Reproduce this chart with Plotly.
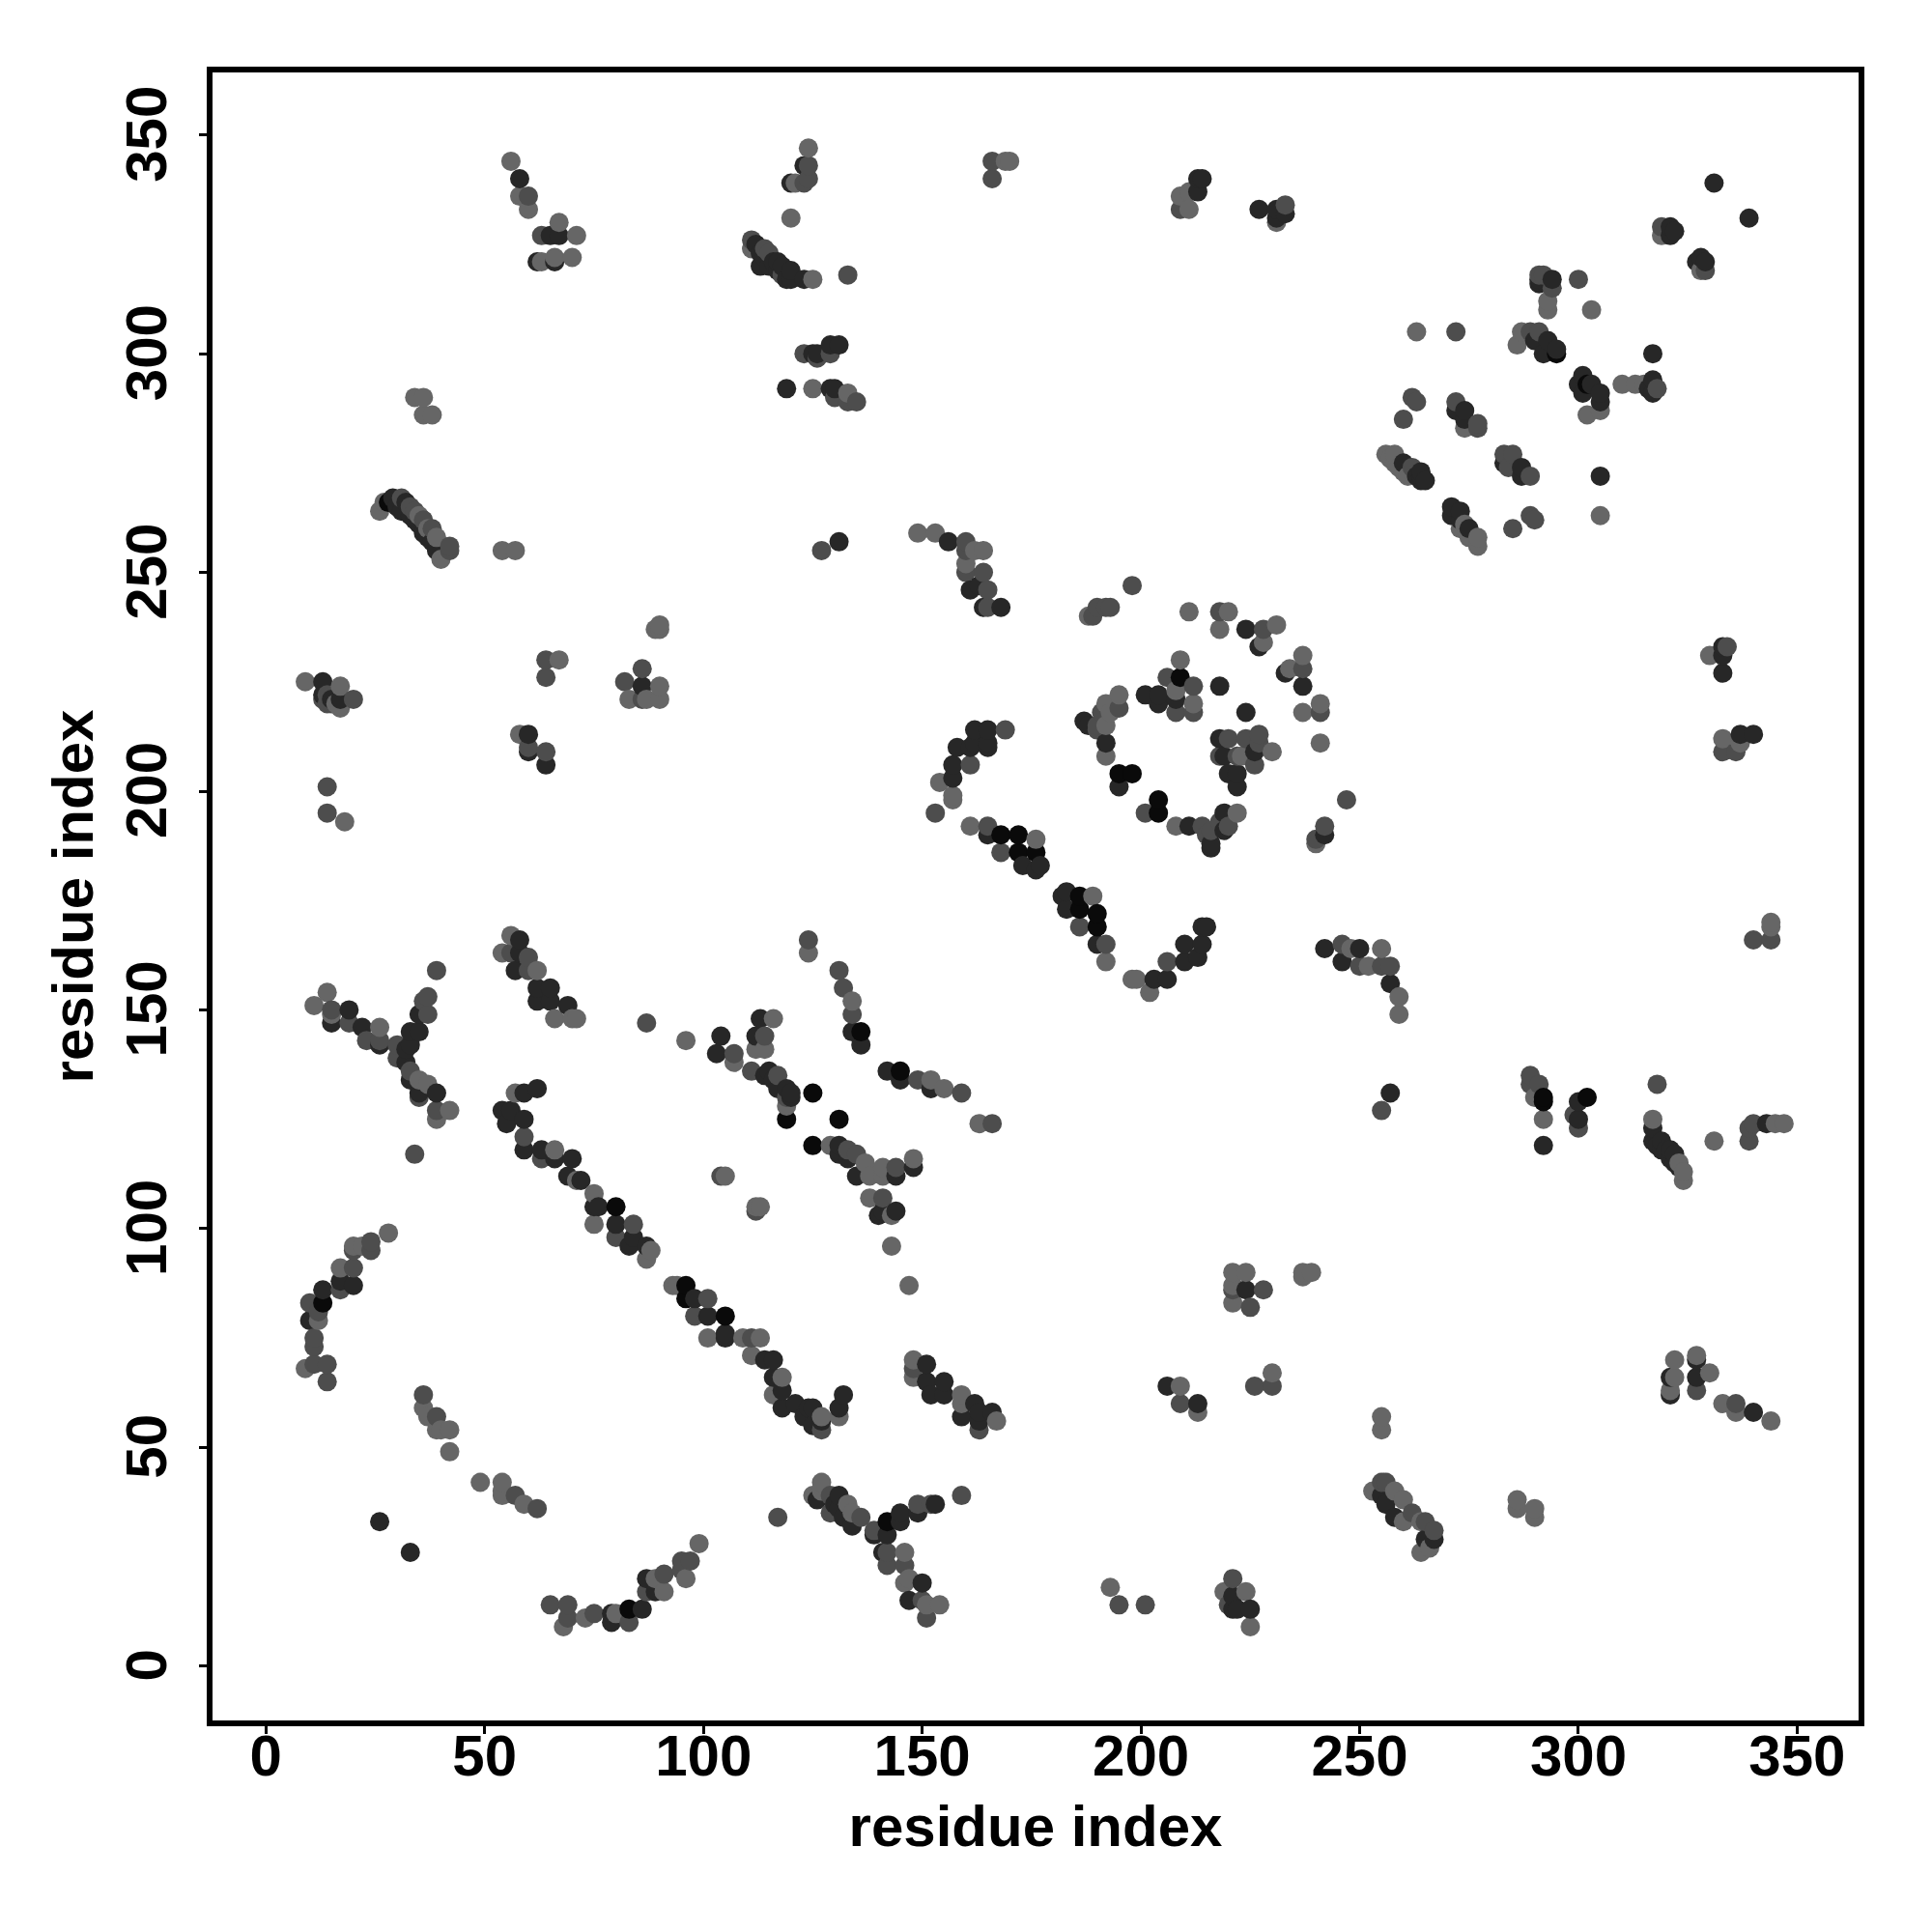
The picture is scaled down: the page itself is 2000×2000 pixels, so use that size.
import numpy as np
import plotly.graph_objects as go

contacts_light = [
(56,344),(58,336),(60,333),(67,330),(71,327),(63,321),(66,322),(70,322),(34,290),(36,290),(36,286),(38,286),(26,264),(27,266),(35,263),(37,260),(39,258),(40,253),(54,255),(57,255),
(111,324),(125,317),(124,347),(121,339),(120,331),(125,292),(133,291),(169,344),(170,344),(209,336),(211,333),(211,337),(231,330),(149,259),(153,259),(164,255),(162,255),(160,252),(188,240),(211,241),(220,241),
(319,327),(293,312),(293,310),(328,319),(303,310),(263,305),(287,305),(286,302),(310,293),(313,293),(315,293),(302,286),(305,287),(274,283),(256,277),(257,276),(258,277),(258,275),(259,274),(260,273),(261,272),(262,273),(274,261),(273,260),(277,258),(277,256),(275,258),(305,263),
(90,238),(89,237),(90,237),(67,230),(90,224),(83,221),(87,221),(90,221),(9,225),(17,224),(16,220),(17,219),(58,213),(18,193),(56,167),(54,163),(62,159),(66,148),(70,148),(71,148),(14,154),(11,151),(15,149),(26,146),(35,134),(37,133),(42,127),(39,125),(57,131),(66,118),(107,138),(96,143),(112,141),
(209,230),(208,223),(212,220),(218,237),(231,238),(228,234),(234,228),(237,231),(237,218),(154,202),(157,199),(157,198),(161,192),(176,189),(189,176),(192,161),(198,157),(199,157),(202,154),(195,222),(192,220),(193,218),(192,215),(192,208),(208,192),(222,195),(230,209),(223,208),(124,163),(134,152),(152,134),(155,132),(163,124),(129,119),(137,115),(141,114),(148,116),(116,148),(114,141),(119,128),
(330,231),(333,212),(337,211),(241,220),(241,211),(240,188),(255,164),(248,164),(252,160),(259,153),(259,149),(290,130),(292,125),(317,125),(331,120),(347,124),(345,124),(344,170),(344,169),
(71,111),(75,108),(75,101),(88,95),(87,93),(93,87),(94,87),(101,75),(109,75),(111,71),(28,99),(22,96),(20,96),(17,91),(12,79),(9,68),(36,59),(37,57),(39,54),(42,54),(40,54),(42,49),(49,42),(54,42),(54,40),(54,39),(59,37),(99,28),(96,20),(89,20),(91,17),(80,12),(73,11),(68,9),(105,112),(112,105),
(113,105),(113,75),(118,66),(116,62),(131,57),(148,70),(148,66),(159,62),(159,60),(167,56),(209,64),(213,58),(230,67),(221,90),(224,90),(221,87),(221,83),(237,90),(237,89),(239,90),(138,107),(143,103),(143,96),(147,87),(138,112),(141,112),(127,42),(125,39),(127,40),(133,37),(134,35),(146,26),(147,20),(146,19),(151,14),(154,14),(193,18),(219,17),(224,17),(225,9),(127,57),
(322,70),(327,71),(330,67),(322,66),(321,63),(333,60),(336,58),(344,56),(255,57),(255,54),(286,38),(286,36),(290,36),(290,34),(253,40),(258,40),(260,38),(260,33),(264,33),(264,26),(266,27),(323,115),(324,113),(324,111),
]

contacts_mid = [
(60,336),(63,327),(31,267),(33,265),(34,264),(36,262),(38,260),(42,255),(42,256),
(124,343),(123,339),(124,340),(111,326),(114,324),(115,323),(118,318),(133,318),(123,300),(126,299),(129,300),(130,290),(133,289),(135,289),(166,344),(166,340),(209,333),(233,334),(127,255),(160,257),(160,255),(160,250),(164,250),(165,246),(165,242),(198,247),(190,242),(192,242),(193,242),(189,240),(218,241),
(319,329),(291,318),(294,315),(292,318),(300,317),(272,305),(289,305),(291,305),(318,292),(262,290),(263,289),(260,285),(272,289),(277,284),(277,283),(262,274),(283,277),(285,277),(284,274),(289,272),(289,263),(290,262),(285,260),(329,319),
(64,230),(64,226),(86,228),(82,225),(86,221),(13,221),(14,222),(14,220),(15,220),(20,221),(60,210),(64,209),(14,201),(14,195),(39,159),(56,163),(60,162),(60,159),(15,150),(19,147),(23,143),(26,143),(37,153),(36,152),(37,149),(30,142),(30,139),(33,136),(35,130),(39,127),(34,117),(59,121),(63,116),(107,140),(87,147),(111,136),(114,144),
(206,226),(212,224),(208,218),(212,218),(228,237),(237,228),(169,214),(161,206),(153,195),(165,192),(168,186),(186,169),(192,165),(206,161),(195,219),(191,218),(190,215),(190,214),(201,195),(214,192),(218,193),(220,192),(216,191),(215,190),(220,212),(224,212),(227,213),(227,211),(218,208),(222,208),(226,206),(124,166),(131,159),(132,155),(134,149),(149,134),(159,131),(166,124),(133,118),(135,117),(144,114),(117,135),(119,130),
(334,233),(333,209),(336,209),(247,198),(241,218),(242,192),(240,189),(246,165),(250,160),(255,160),(257,160),(255,127),(289,135),(291,133),(289,133),(299,126),(300,123),(318,133),(339,120),(339,123),(340,124),(340,166),(344,166),
(84,101),(80,98),(101,84),(98,80),(111,75),(24,97),(24,95),(20,95),(20,91),(17,86),(10,83),(12,81),(11,75),(11,73),(11,69),(14,69),(14,65),(36,62),(39,57),(57,39),(62,36),(95,24),(97,24),(95,22),(91,21),(87,17),(83,10),(75,12),(65,14),(69,14),(69,11),(104,112),(112,104),
(127,54),(163,54),(148,68),(209,60),(226,64),(230,64),(221,86),(228,86),(225,82),(141,107),(117,34),(129,39),(129,35),(136,34),(139,31),(149,37),(152,37),(159,39),(142,26),(142,23),(146,23),(150,15),(151,11),(195,14),(201,14),(221,20),(220,14),
(327,63),(336,60),(255,42),(256,42),(262,35),(265,33),(267,31),
]

contacts_dark = [
(58,340),(65,327),(67,327),(62,321),(66,321),(29,267),(30,265),(31,264),(32,266),(33,263),(34,262),(35,261),(36,259),(37,258),(38,257),(39,255),
(123,343),(120,339),(112,325),(113,323),(114,322),(115,320),(116,321),(117,321),(117,319),(118,320),(119,317),(120,319),(120,317),(123,317),(113,320),(125,300),(126,300),(129,302),(131,302),(119,292),(129,292),(130,292),(213,337),(213,340),(214,340),(227,333),(231,333),(233,332),(231,331),(131,257),(156,257),(161,246),(163,247),(164,242),(168,242),
(331,339),(339,331),(321,329),(322,328),(321,327),(328,322),(329,321),(327,321),(294,317),(291,316),(291,317),(290,303),(293,303),(295,301),(292,300),(317,300),(301,295),(300,293),(303,293),(305,291),(305,289),(301,291),(317,294),(316,292),(317,291),(272,287),(274,287),(274,285),(305,272),(260,275),(263,272),(264,273),(264,272),(265,271),(264,271),(283,275),(287,274),(287,272),(271,265),(271,263),(273,264),(275,260),(273,262),
(86,224),(13,225),(13,222),(15,221),(17,221),(60,213),(60,209),(64,206),(58,166),(58,163),(57,159),(62,155),(65,155),(62,152),(65,152),(69,151),(15,147),(19,150),(22,146),(26,142),(35,149),(35,145),(33,145),(33,142),(32,141),(32,138),(33,134),(35,131),(39,131),(62,132),(59,131),(54,127),(56,127),(59,125),(55,124),(59,118),(63,118),(66,116),(70,116),(104,144),(103,140),(113,148),(112,144),
(201,222),(204,222),(204,220),(208,221),(218,224),(224,218),(224,237),(227,233),(233,227),(237,224),(165,214),(162,214),(162,211),(165,211),(161,210),(165,210),(158,210),(157,206),(157,203),(165,190),(173,183),(177,183),(176,182),(183,177),(182,176),(183,173),(187,216),(188,215),(192,211),(195,201),(211,192),(219,195),(219,191),(216,188),(216,187),(218,212),(219,208),(226,209),(220,204),(222,204),(222,201),(203,157),(206,157),(210,165),(210,161),(213,162),(214,165),(214,169),(215,169),(190,165),(134,145),(136,142),(142,136),(152,132),(145,134),(131,119),(131,117),(133,116),(148,114),(114,135),(115,136),(117,132),(119,132),(120,131),(120,130),(116,134),
(333,233),(333,231),(333,227),(340,213),(337,213),(242,190),(242,164),(246,161),(250,164),(257,156),(257,131),(292,119),(300,125),(300,129),(317,123),(317,120),(319,120),(321,118),(318,119),(319,118),(320,118),(321,116),(322,117),(322,115),(323,114),(343,124),
(69,112),(72,111),(75,105),(76,105),(80,101),(84,98),(83,96),(87,96),(98,84),(101,80),(105,76),(105,75),(17,88),(20,87),(13,86),(10,79),(86,13),(79,12),(79,10),(26,33),(33,26),(87,20),(89,17),(135,112),(144,112),
(116,70),(114,70),(116,66),(118,63),(118,59),(121,60),(124,59),(125,59),(123,57),(127,56),(125,55),(132,62),(131,59),(151,69),(151,65),(155,65),(152,62),(155,62),(162,60),(159,57),(163,58),(166,58),(163,56),(206,64),(213,60),(224,86),(140,103),(144,104),(141,104),(126,38),(131,39),(130,37),(131,36),(132,34),(134,32),(139,30),(142,30),(145,35),(145,33),(149,35),(153,37),(141,26),(150,19),(147,15),(221,16),(221,13),(225,13),(222,13),
(327,70),(321,66),(327,66),(321,62),(340,58),(255,39),(256,37),(258,34),(267,29),(265,29),
]

contacts_black = [
(28,266),(125,131),(119,125),(131,125),(125,119),(13,83),(83,13),(105,80),(96,84),(96,87),(142,33),(145,136),(136,145),(190,172),(190,169),(186,176),(186,173),(168,190),(172,190),(176,186),(172,186),(195,204),(198,204),(204,198),(204,195),(209,226),(292,130),(292,129),(302,130),(80,105),(295,300),(302,293),
]

tick_vals = [0, 50, 100, 150, 200, 250, 300, 350]
axis_label = "residue index"
shades = ["#666666", "#4d4d4d", "#272727", "#0a0a0a"]

groups = [contacts_light, contacts_mid, contacts_dark, contacts_black]
xs = np.array([p[0] for g in groups for p in g])
ys = np.array([p[1] for g in groups for p in g])
cs = np.array([shades[k] for k, g in enumerate(groups) for _ in g])
order = np.lexsort((ys, xs))

fig = go.Figure(go.Scatter(
    x=xs[order], y=ys[order], mode="markers",
    marker=dict(size=20, color=list(cs[order]), line=dict(width=0)),
    cliponaxis=False,
))
FONT = dict(family="Liberation Sans", size=60, color="black", weight="bold")
axis = dict(
    tickmode="array", tickvals=tick_vals, ticks="outside", ticklen=8, tickwidth=3,
    tickcolor="black", showline=True, mirror=True, linecolor="black", linewidth=5.5,
    showgrid=False, zeroline=False, tickfont=FONT,
)
fig.update_layout(
    width=2000, height=2000, autosize=False,
    margin=dict(l=212, r=84, t=67, b=227, pad=0),
    paper_bgcolor="white", plot_bgcolor="white", showlegend=False,
)
fig.update_xaxes(**axis, range=[-12.21, 364.04], ticklabelstandoff=-29,
                 title=dict(text=axis_label, font=FONT, standoff=21))
fig.update_yaxes(**axis, range=[-12.43, 364.29], tickangle=-90, ticklabelstandoff=10,
                 ticklabelshift=8, title=dict(text=axis_label, font=FONT, standoff=4))
fig.write_html("out.html")
